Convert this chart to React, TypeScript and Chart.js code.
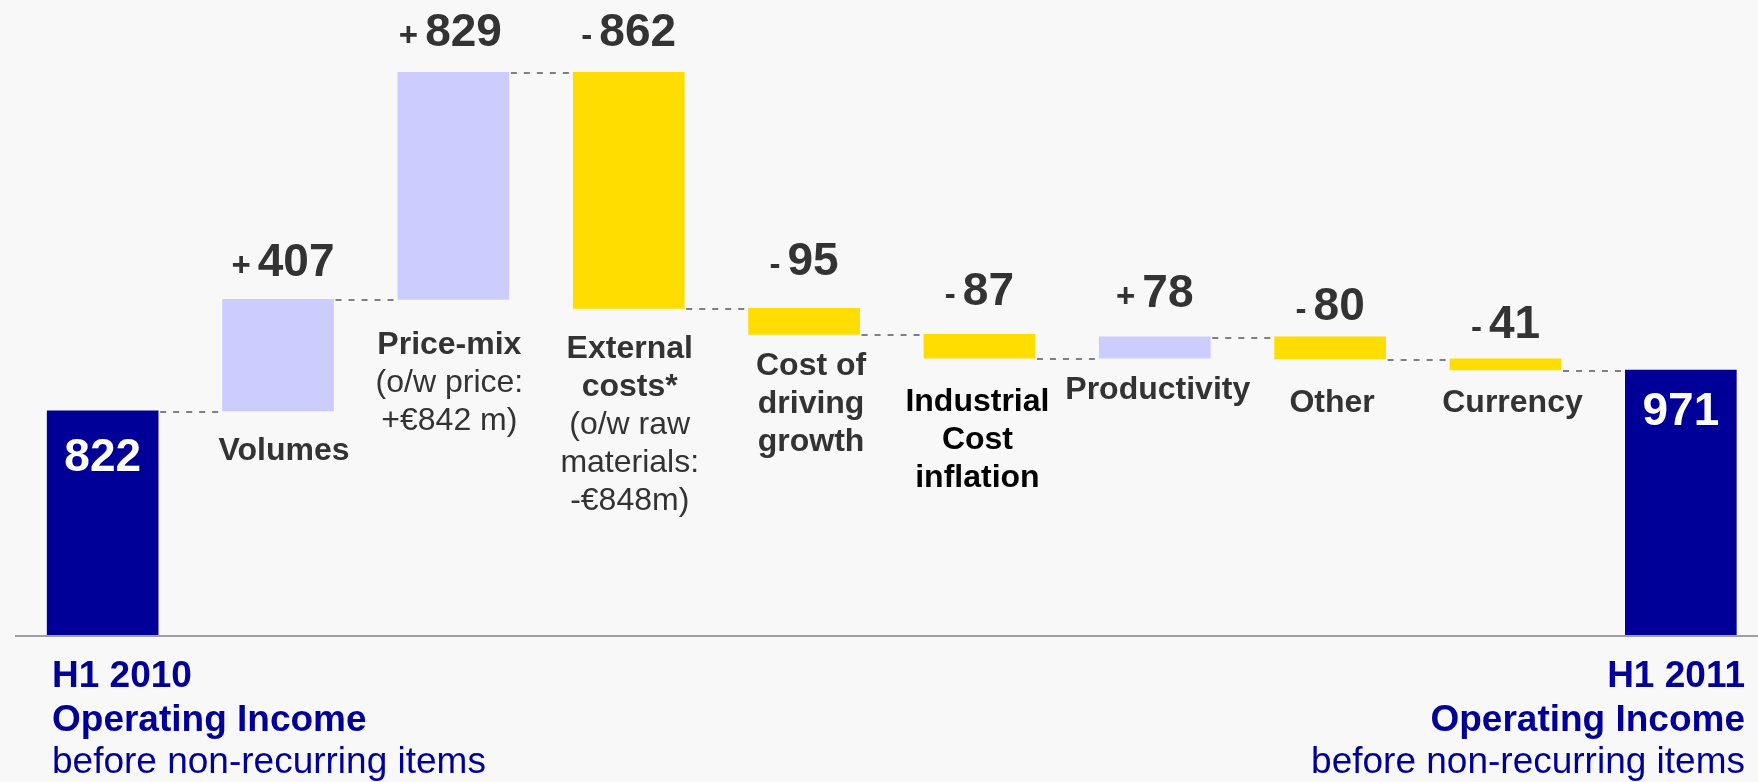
import React, { useEffect, useRef } from "react";
import { Chart, registerables } from "chart.js";

Chart.register(...registerables);

// ---------- data ----------
const START_VALUE = 822;
const END_VALUE = 971;
const DELTAS = [407, 829, -862, -95, -87, 78, -80, -41];
const DELTA_LABELS: string[][] = [
  ["Volumes"],
  ["Price-mix", "(o/w price:", "+€842 m)"],
  ["External", "costs*", "(o/w raw", "materials:", "-€848m)"],
  ["Cost of", "driving", "growth"],
  ["Industrial", "Cost", "inflation"],
  ["Productivity"],
  ["Other"],
  ["Currency"],
];
const DELTA_LABEL_BOLD_LINES = [1, 1, 2, 3, 3, 1, 1, 1];
const START_TITLE = ["H1 2010", "Operating Income", "before non-recurring items"];
const END_TITLE = ["H1 2011", "Operating Income", "before non-recurring items"];

// ---------- styles / layout ----------
const BG = "#f8f8f8";
const TOTAL_COLOR = "#000099";
const POS_COLOR = "#ccccff";
const NEG_COLOR = "#ffdd00";
const TEXT_COLOR = "#333333";
const FONT = '"Liberation Sans", Arial, Helvetica, sans-serif';
const VALUE_LIFT = [23, 26, 26, 33, 29, 30, 17, 21];
const VALUE_DX = [5, -3, 0, 0, 0, 0, 0, 0];
const LABEL_DROP = [49, 55, 50, 41, 53, 41, 53, 42];
const LABEL_DX = [6, -4, 1, 7, -2, 3, 2, 7];
const LABEL_COLORS = [TEXT_COLOR, TEXT_COLOR, TEXT_COLOR, TEXT_COLOR, "#000000", TEXT_COLOR, TEXT_COLOR, TEXT_COLOR];
const LINE_H = 38;

export default function App() {
  const ref = useRef<HTMLCanvasElement | null>(null);

  useEffect(() => {
    document.body.style.margin = "0";
    document.body.style.background = BG;
    const canvas = ref.current;
    if (!canvas) return;

    const ranges: { x: number; y: [number, number] }[] = [{ x: 0, y: [0, START_VALUE] }];
    const colors: string[] = [TOTAL_COLOR];
    const levels: number[] = [START_VALUE];
    let run = START_VALUE;
    DELTAS.forEach((d, k) => {
      const s = run;
      run += d;
      ranges.push({ x: k + 1, y: [s, run] });
      colors.push(d >= 0 ? POS_COLOR : NEG_COLOR);
      levels.push(run);
    });
    ranges.push({ x: DELTAS.length + 1, y: [0, END_VALUE] });
    colors.push(TOTAL_COLOR);
    levels.push(END_VALUE);

    const annot = {
      id: "annot",
      afterDatasetsDraw(chart: any) {
        const ctx: CanvasRenderingContext2D = chart.ctx;
        const meta = chart.getDatasetMeta(0);
        const ys = chart.scales.y;
        const ca = chart.chartArea;
        const els = meta.data as any[];
        ctx.save();

        // axis line
        ctx.strokeStyle = "#a0a0a0";
        ctx.lineWidth = 2;
        ctx.beginPath();
        ctx.moveTo(ca.left, ca.bottom);
        ctx.lineTo(ca.right, ca.bottom);
        ctx.stroke();

        // connectors
        ctx.setLineDash([6, 7]);
        ctx.strokeStyle = "#7f7f7f";
        ctx.lineWidth = 2.2;
        for (let i = 0; i < els.length - 1; i++) {
          const a = els[i];
          const b = els[i + 1];
          const y = Math.round(ys.getPixelForValue(levels[i])) + 1;
          ctx.beginPath();
          ctx.moveTo(a.x + a.width / 2 + 2, y);
          ctx.lineTo(b.x - b.width / 2 - 2, y);
          ctx.stroke();
        }
        ctx.setLineDash([]);

        // totals labels
        ctx.fillStyle = "#ffffff";
        ctx.font = `bold 46px ${FONT}`;
        ctx.textAlign = "center";
        ctx.textBaseline = "alphabetic";
        const first = els[0];
        ctx.fillText(String(START_VALUE), first.x, Math.min(first.y, first.base) + 60);
        const last = els[els.length - 1];
        ctx.fillText(String(END_VALUE), last.x, Math.min(last.y, last.base) + 55);

        // delta value labels & category labels
        DELTAS.forEach((d, k) => {
          const el = els[k + 1];
          const top = Math.min(el.y, el.base);
          const bottom = Math.max(el.y, el.base);
          const sign = d >= 0 ? "+" : "-";
          const num = String(Math.abs(d));
          ctx.font = `bold 33px ${FONT}`;
          const sw = ctx.measureText(sign).width;
          ctx.font = `bold 46px ${FONT}`;
          const nw = ctx.measureText(num).width;
          const gap = 7;
          const total = sw + gap + nw;
          const x0 = el.x + VALUE_DX[k] - total / 2;
          const by = top - VALUE_LIFT[k];
          ctx.fillStyle = TEXT_COLOR;
          ctx.textAlign = "left";
          ctx.font = `bold 33px ${FONT}`;
          ctx.fillText(sign, x0, by);
          ctx.font = `bold 46px ${FONT}`;
          ctx.fillText(num, x0 + sw + gap, by);

          // category label
          ctx.textAlign = "center";
          ctx.fillStyle = LABEL_COLORS[k];
          const lines = DELTA_LABELS[k];
          lines.forEach((ln, j) => {
            ctx.font = `${j < DELTA_LABEL_BOLD_LINES[k] ? "bold " : ""}32px ${FONT}`;
            ctx.fillText(ln, el.x + LABEL_DX[k], bottom + LABEL_DROP[k] + j * LINE_H);
          });
        });

        // bottom titles
        ctx.fillStyle = TOTAL_COLOR;
        const base0 = ca.bottom + 51;
        const gaps = [0, 44, 86];
        START_TITLE.forEach((t, j) => {
          ctx.font = `${j < 2 ? "bold " : ""}37px ${FONT}`;
          ctx.textAlign = "left";
          ctx.fillText(t, 52, base0 + gaps[j]);
        });
        END_TITLE.forEach((t, j) => {
          ctx.font = `${j < 2 ? "bold " : ""}37px ${FONT}`;
          ctx.textAlign = "right";
          ctx.fillText(t, 1745, base0 + gaps[j]);
        });

        ctx.restore();
      },
    };

    const chart = new Chart(canvas, {
      type: "bar",
      data: {
        datasets: [
          {
            data: ranges as any,
            backgroundColor: colors,
            borderWidth: 0,
            barThickness: 111,
            grouped: false,
          } as any,
        ],
      },
      options: {
        animation: false,
        responsive: false,
        maintainAspectRatio: false,
        layout: { padding: { left: 15, right: 0, top: 6, bottom: 146 } },
        scales: {
          x: { type: "linear", min: -0.5, max: 9.44, offset: false, display: false },
          y: { min: 0, max: 2300, display: false },
        },
        plugins: {
          legend: { display: false },
          tooltip: { enabled: false },
        },
      },
      plugins: [annot],
    });

    return () => chart.destroy();
  }, []);

  return (
    <div style={{ position: "fixed", left: 0, top: 0, width: 1758, height: 782, background: BG }}>
      <canvas ref={ref} width={1758} height={782} style={{ display: "block", width: 1758, height: 782 }} />
    </div>
  );
}
